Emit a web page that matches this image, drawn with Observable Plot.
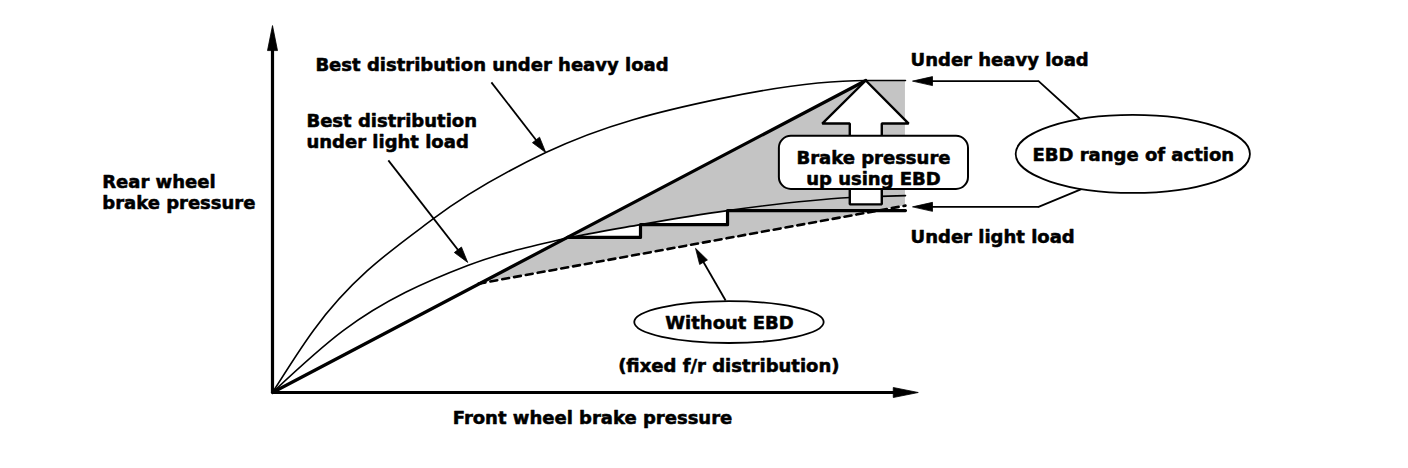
<!DOCTYPE html>
<html><head><meta charset="utf-8">
<script src="https://cdn.jsdelivr.net/npm/d3@7"></script>
<script src="https://cdn.jsdelivr.net/npm/@observablehq/plot@0.6"></script>
<style>body{margin:0;background:#fff}</style>
</head><body><div id="chart"></div>
<script>
// ---- data (front pressure x, rear pressure y; 0..100 schematic units) ----
const heavyX = [0, 6.4, 25.2, 42.7, 70.0, 92.7, 98.9];
const heavyY = [0, 19.9, 55.8, 76.9, 94.2, 100, 100];
const lightX = [0, 11.1, 30.5, 45.0, 57.5, 71.1, 90.3, 98.9];
const lightY = [0, 19.9, 40.7, 49.0, 53.8, 58.3, 62.5, 63.1];
const fixedX = [0, 92.7];
const fixedY = [0, 100];
const noEbdX = [32.2, 98.9];
const noEbdY = [34.9, 59.9];
const stepX = [46.1, 57.5, 57.5, 71.1, 71.1, 98.9];
const stepY = [49.7, 49.7, 53.8, 53.8, 58.3, 58.3];
const shadeX = [32.2, 92.7, 98.9];
const shadeLow = [34.9, 57.3, 59.9];
const shadeHigh = [34.9, 100, 100];
const gapX = [46.1, 57.5, 57.5, 71.1];
const gapLow = [49.7, 49.7, 53.8, 53.8];
const gapHigh = [49.7, 53.8, 53.8, 58.3];
const gapId = [1, 1, 2, 2];
const upArrowX = [92.7, 99.4, 95.2, 95.2, 90.2, 90.2, 85.9, 92.7];
const upArrowY = [100, 86.2, 86.2, 60.3, 60.3, 86.2, 86.2, 100];
const boxX = [79.2, 108.75];
const boxY = [65.1, 82.1];
// arrows: axes, then pointers
const arrX1 = [0, 0, 34.2, 18.1, 70.8, 119.7, 119.7];
const arrY1 = [0, 0, 99.4, 74.4, 29.5, 99.8, 59.5];
const arrX2 = [100.9, 0, 42.7, 30.5, 66.1, 100.0, 100.0];
const arrY2 = [0, 117.6, 76.9, 41.7, 46.2, 99.8, 59.5];
const arrKind = ["axis", "axis", "ptr", "ptr", "ptr", "conn", "conn"];
const connX = [126.3, 119.7, 126.3, 119.7];
const connY = [87.5, 99.8, 65.1, 59.5];
const connId = [1, 1, 2, 2];
const ellCx = [134.5, 71.4];
const ellCy = [76.3, 22.4];
const ellRx = [18.3, 14.8];
const ellRy = [12.5, 6.7];
const labelText = [
  "Best distribution under heavy load",
  "Best distribution\nunder light load",
  "Rear wheel\nbrake pressure",
  "Under heavy load",
  "Under light load",
  "Brake pressure\nup using EBD",
  "EBD range of action",
  "Without EBD",
  "(fixed f/r distribution)",
  "Front wheel brake pressure"
];
const labelX = [6.7, 5.3, -26.6, 99.7, 99.7, 93.9, 134.5, 71.4, 71.3, 50.0];
const labelY = [105.1, 84.0, 64.4, 106.7, 50.0, 72.1, 76.3, 22.4, 8.7, -8.0];
const labelAnchor = ["start", "start", "start", "start", "start", "middle", "middle", "middle", "middle", "middle"];

// ---- layout ----
const W = 1408, H = 468, mL = 272, mR = 496, mT = 80, mB = 76;
const kx = (W - mL - mR) / 100, ky = (H - mT - mB) / 100; // px per unit
const headSize = {axis: [25, 5], ptr: [16, 4.5], conn: [20, 4.5]};
const shaftWidth = {axis: 3.2, ptr: 1.8, conn: 1.8};

const idx = a => a.map((_, i) => i);
const font = {fontFamily: "DejaVu Sans", fontWeight: "bold", fontSize: 18, fill: "black", stroke: "black", strokeWidth: 0.55, lineHeight: 1.18, lineAnchor: "middle"};
const labelsStart = idx(labelText).filter(i => labelAnchor[i] === "start");
const labelsMid = idx(labelText).filter(i => labelAnchor[i] === "middle");

// arrow shafts + filled heads
const arrowMarks = [];
idx(arrX1).forEach(i => {
  const dx = (arrX2[i] - arrX1[i]) * kx, dy = -(arrY2[i] - arrY1[i]) * ky;
  const n = Math.hypot(dx, dy), ux = dx / n, uy = dy / n;
  const [len, half] = headSize[arrKind[i]];
  const sym = {draw(ctx) {
    ctx.moveTo(0, 0);
    ctx.lineTo(-ux * len - uy * half, -uy * len + ux * half);
    ctx.lineTo(-ux * len + uy * half, -uy * len - ux * half);
    ctx.closePath();
  }};
  const ex = arrX2[i] - ux * len * 0.5 / kx, ey = arrY2[i] + uy * len * 0.5 / ky;
  arrowMarks.push(Plot.link([i], {x1: arrX1[i], y1: arrY1[i], x2: ex, y2: ey, stroke: "black", strokeWidth: shaftWidth[arrKind[i]]}));
  arrowMarks.push(Plot.dot([i], {x: arrX2[i], y: arrY2[i], symbol: sym, r: 5, fill: "black", stroke: "black", strokeWidth: 0.8}));
});

const chart = Plot.plot({
  width: W, height: H,
  marginLeft: mL, marginRight: mR, marginTop: mT, marginBottom: mB,
  x: {domain: [0, 100], axis: null},
  y: {domain: [0, 100], axis: null},
  style: {background: "white", overflow: "visible"},
  marks: [
    Plot.areaY(idx(shadeX), {x: i => shadeX[i], y1: i => shadeLow[i], y2: i => shadeHigh[i], fill: "#c4c4c4", curve: "linear"}),
    Plot.areaY(idx(gapX), {x: i => gapX[i], y1: i => gapLow[i], y2: i => gapHigh[i], z: i => gapId[i], fill: "white", curve: "linear"}),
    Plot.line(idx(heavyX), {x: i => heavyX[i], y: i => heavyY[i], curve: "monotone-x", stroke: "black", strokeWidth: 1.6}),
    Plot.line(idx(lightX), {x: i => lightX[i], y: i => lightY[i], curve: "monotone-x", stroke: "black", strokeWidth: 1.6}),
    Plot.line(idx(fixedX), {x: i => fixedX[i], y: i => fixedY[i], stroke: "black", strokeWidth: 3.2}),
    Plot.line(idx(noEbdX), {x: i => noEbdX[i], y: i => noEbdY[i], stroke: "black", strokeWidth: 2.6, strokeDasharray: "7,5"}),
    Plot.line(idx(stepX), {x: i => stepX[i], y: i => stepY[i], stroke: "black", strokeWidth: 3.2}),
    Plot.line(idx(upArrowX), {x: i => upArrowX[i], y: i => upArrowY[i], stroke: "black", strokeWidth: 2.4, fill: "white", strokeLinejoin: "miter"}),
    Plot.rect([0], {x1: boxX[0], x2: boxX[1], y1: boxY[0], y2: boxY[1], fill: "white", stroke: "black", strokeWidth: 2, rx: 12}),
    Plot.line(idx(connX), {x: i => connX[i], y: i => connY[i], z: i => connId[i], stroke: "black", strokeWidth: 1.8}),
    ...arrowMarks,
    Plot.text(labelsStart, {x: i => labelX[i], y: i => labelY[i], text: i => labelText[i], textAnchor: "start", ...font}),
    Plot.text(labelsMid, {x: i => labelX[i], y: i => labelY[i], text: i => labelText[i], textAnchor: "middle", ...font})
  ]
});

// ellipses drawn through the plot's own scales
const sx = chart.scale("x"), sy = chart.scale("y");
const g = d3.select(chart).insert("g", "g[aria-label='text']");
ellCx.forEach((cx, i) => {
  const px = sx.apply(cx), py = sy.apply(ellCy[i]);
  g.append("ellipse")
    .attr("cx", px).attr("cy", py)
    .attr("rx", Math.abs(sx.apply(cx + ellRx[i]) - px))
    .attr("ry", Math.abs(sy.apply(ellCy[i] + ellRy[i]) - py))
    .attr("fill", "white").attr("stroke", "black").attr("stroke-width", 1.8);
});
document.getElementById("chart").appendChild(chart);
</script>
</body></html>
